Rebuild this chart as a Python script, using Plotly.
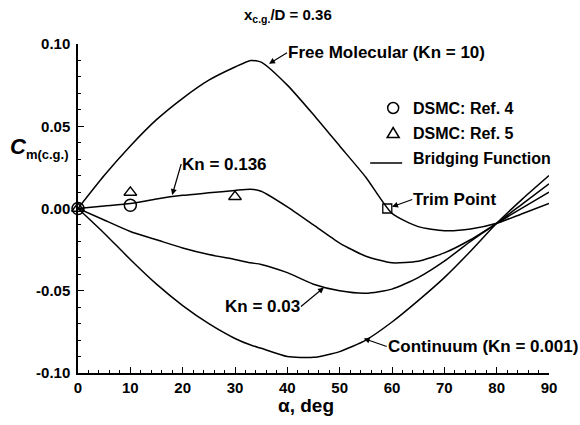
import plotly.graph_objects as go

# ---------------- data ----------------
alpha = [0, 5, 10, 15, 20, 25, 30, 33, 35, 40, 45, 50, 55, 60, 65, 70, 75, 80, 85, 90]
cm_free_molecular = [0.0, 0.020, 0.038, 0.054, 0.067, 0.078, 0.086, 0.090, 0.089, 0.075,
                     0.057, 0.038, 0.019, -0.003, -0.011, -0.0135, -0.0125, -0.009, -0.003, 0.003]
cm_kn0136 = [0.0, 0.0015, 0.003, 0.0058, 0.0080, 0.0095, 0.0110, 0.0117, 0.0105, 0.001,
             -0.010, -0.021, -0.029, -0.033, -0.032, -0.027, -0.019, -0.009, 0.0005, 0.010]
cm_kn003 = [0.0, -0.007, -0.014, -0.019, -0.024, -0.028, -0.031, -0.033, -0.034, -0.039,
            -0.046, -0.050, -0.0515, -0.049, -0.042, -0.032, -0.020, -0.009, 0.003, 0.015]
cm_continuum = [0.0, -0.015, -0.031, -0.046, -0.059, -0.070, -0.079, -0.083, -0.085, -0.090,
                -0.0905, -0.087, -0.080, -0.069, -0.056, -0.042, -0.026, -0.009, 0.006, 0.020]

dsmc_ref4_alpha = [0, 10]
dsmc_ref4_cm = [0.0, 0.002]
dsmc_ref5_alpha = [0, 10, 30]
dsmc_ref5_cm = [0.0, 0.0098, 0.0072]
trim_alpha = [59.1]
trim_cm = [0.0]

x_ticks = [0, 10, 20, 30, 40, 50, 60, 70, 80, 90]
y_ticks = [-0.10, -0.05, 0.0, 0.05, 0.10]
y_ticktext = ["-0.10", "-0.05", "0.00", "0.05", "0.10"]

# ---------------- layout helpers ----------------
W, H = 580, 425
L, R, T, B = 77.5, 31, 44, 52
PW, PH = W - L - R, H - T - B

def px(x):
    return (x - L) / PW

def py(y):
    return (H - B - y) / PH

FONT = "Liberation Sans, Arial, Helvetica, sans-serif"
BLACK = "#000000"

fig = go.Figure()

for ys in [cm_free_molecular, cm_kn0136, cm_kn003, cm_continuum]:
    fig.add_trace(go.Scatter(x=alpha, y=ys, mode="lines",
                             line=dict(color=BLACK, width=1.5, shape="spline", smoothing=0.6),
                             showlegend=False, hoverinfo="skip"))

fig.add_trace(go.Scatter(x=dsmc_ref4_alpha, y=dsmc_ref4_cm, mode="markers",
                         marker=dict(symbol="circle-open", size=12, color=BLACK, line=dict(width=1.5)),
                         cliponaxis=False, showlegend=False))
fig.add_trace(go.Scatter(x=dsmc_ref5_alpha, y=dsmc_ref5_cm, mode="markers",
                         marker=dict(symbol="triangle-up-open", size=11, color=BLACK, line=dict(width=1.5)),
                         cliponaxis=False, showlegend=False))
fig.add_trace(go.Scatter(x=trim_alpha, y=trim_cm, mode="markers",
                         marker=dict(symbol="square-open", size=9, color=BLACK, line=dict(width=1.3)),
                         cliponaxis=False, showlegend=False))

annots = []
tf = dict(family=FONT, size=17, color=BLACK, weight="bold")
lf = dict(family=FONT, size=16, color=BLACK, weight="bold")

def arrow_note(text, x, y, ax, ay, anchor, standoff=0):
    annots.append(dict(x=x, y=y, xref="x", yref="y", text=text, showarrow=True,
                       ax=ax, ay=ay, xanchor=anchor, yanchor="middle",
                       arrowhead=2, arrowsize=1, arrowwidth=1.2, arrowcolor=BLACK,
                       standoff=standoff, font=tf, borderpad=0))

arrow_note("Free Molecular (Kn = 10)", 36.5, 0.088, 18, -11, "left")
arrow_note("Kn = 0.136", 18.0, 0.0082, 9, -31, "left")
arrow_note("Kn = 0.03", 47.0, -0.048, -23, 19, "right")
arrow_note("Continuum (Kn = 0.001)", 54.6, -0.079, 23, 8, "left")
arrow_note("Trim Point", 59.1, 0.0, 25, -9, "left", standoff=5)

# title
annots.append(dict(x=px(288), y=py(15), xref="paper", yref="paper", showarrow=False,
                   text="x<sub>c.g.</sub>/D = 0.36", xanchor="center", yanchor="middle",
                   font=dict(family=FONT, size=15, color=BLACK, weight="bold")))
# axis titles
annots.append(dict(x=px(306), y=py(405), xref="paper", yref="paper", showarrow=False,
                   text="α, deg", xanchor="center", yanchor="middle",
                   font=dict(family=FONT, size=19, color=BLACK, weight="bold")))
annots.append(dict(x=px(7), y=py(148), xref="paper", yref="paper", showarrow=False,
                   text="<i>C</i><sub><span style='font-size:13px'>m(c.g.)</span></sub>",
                   xanchor="left", yanchor="middle",
                   font=dict(family=FONT, size=22, color=BLACK, weight="bold")))

# legend texts
for txt, ypix in [("DSMC: Ref. 4", 108), ("DSMC: Ref. 5", 133), ("Bridging Function", 158)]:
    annots.append(dict(x=px(411), y=py(ypix), xref="paper", yref="paper", showarrow=False,
                       text=txt, xanchor="left", yanchor="middle", font=lf))

shapes = []
# legend circle
r = 5.5
shapes.append(dict(type="circle", xref="paper", yref="paper",
                   x0=px(393 - r), x1=px(393 + r), y0=py(108 + r), y1=py(108 - r),
                   line=dict(color=BLACK, width=1.5)))
# legend triangle
cx, cy = 393, 133
shapes.append(dict(type="path", xref="paper", yref="paper",
                   path=f"M {px(cx-6)},{py(cy+4.5)} L {px(cx+6)},{py(cy+4.5)} L {px(cx)},{py(cy-5.5)} Z",
                   line=dict(color=BLACK, width=1.5)))
# legend line
shapes.append(dict(type="line", xref="paper", yref="paper",
                   x0=px(370), x1=px(402), y0=py(163), y1=py(163),
                   line=dict(color=BLACK, width=1.5)))

axis_common = dict(showgrid=False, zeroline=False, showline=True, linecolor=BLACK, linewidth=1.5,
                   ticks="inside", ticklen=6, tickwidth=1.2, tickcolor=BLACK, mirror=False,
                   tickfont=dict(family=FONT, size=15, color=BLACK, weight="bold"))

fig.update_layout(
    width=W, height=H,
    margin=dict(l=L, r=R, t=T, b=B),
    paper_bgcolor="white", plot_bgcolor="white",
    showlegend=False,
    xaxis=dict(range=[0, 90], tickvals=x_ticks, ticklabelstandoff=0,
               minor=dict(dtick=2, ticks="inside", ticklen=3, tickcolor=BLACK, tickwidth=1),
               **axis_common),
    yaxis=dict(range=[-0.1, 0.1], tickvals=y_ticks, ticktext=y_ticktext, ticklabelstandoff=3,
               minor=dict(dtick=0.01, ticks="inside", ticklen=3, tickcolor=BLACK, tickwidth=1),
               **axis_common),
    annotations=annots,
    shapes=shapes,
)

fig.write_html("out.html")
